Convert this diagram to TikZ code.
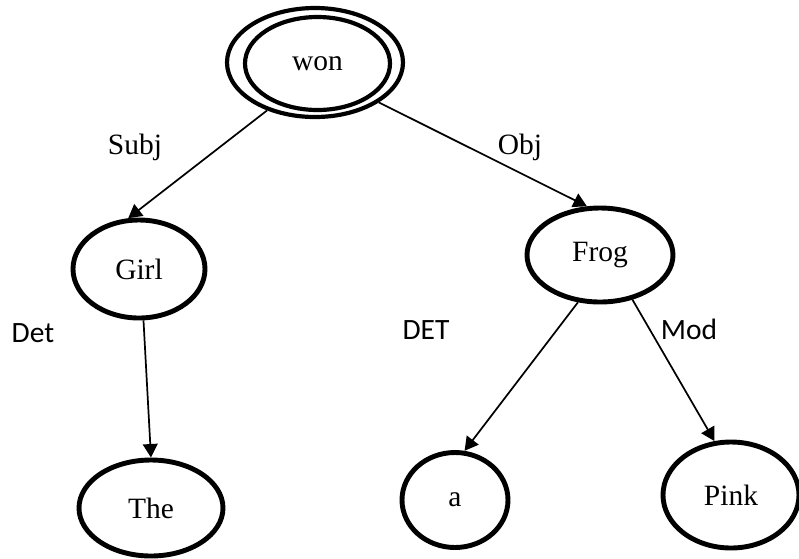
\documentclass[tikz,border=0pt]{standalone}
\usepackage{fontspec}
\setmainfont{Liberation Serif}
\newfontfamily\carlito{Carlito}
\usetikzlibrary{shapes.geometric,arrows.meta}

\tikzset{
  word/.style={ellipse, draw, line width=2pt, inner sep=0pt, font=\fontsize{12}{14}\selectfont},
  oval/.style 2 args={minimum width=#1*0.407pt, minimum height=#2*0.407pt},
  link/.style={-{Triangle[length=5.5pt,width=6pt]}, line width=0.7pt},
  rel/.style={font=\fontsize{12}{14}\selectfont},
  tag/.style={font=\carlito\fontsize{12}{14}\selectfont}
}

\begin{document}
\begin{tikzpicture}[x=0.407pt, y=-0.407pt]
        \useasboundingbox (0,0) rectangle (799,558);

        % words
        \node[word, oval={176}{109}, line width=1.7pt] (won) at (315, 62.5) {};
        \node[word, oval={145}{93}, line width=1.7pt] (woninner) at (317.5, 63.5) {won};
        \node[word, oval={132}{98}] (girl) at (139, 269) {Girl};
        \node[word, oval={146}{94}] (frog) at (600, 255) {Frog};
        \node[word, oval={144}{96}] (the) at (151, 508) {The};
        \node[word, oval={106}{95}] (a) at (455, 500) {a};
        \node[word, oval={136}{106}] (pink) at (731, 495) {Pink};

        % relations
        \node[rel] (subj) at (135, 147.5) {Subj};
        \node[rel] (obj) at (520, 147.5) {Obj};
        \node[tag] (det) at (33, 333) {Det};
        \node[tag] (DET) at (426, 330) {DET};
        \node[tag] (mod) at (689, 329) {Mod};

        \draw[link] (won.225) -- (girl.102);
        \draw[link] (won.328) -- (frog.105);
        \draw[link] (girl.275) -- (the.90);
        \draw[link] (frog.245) -- (a.79);
        \draw[link] (frog.306) -- (pink.107);

    \end{tikzpicture}
\end{document}
